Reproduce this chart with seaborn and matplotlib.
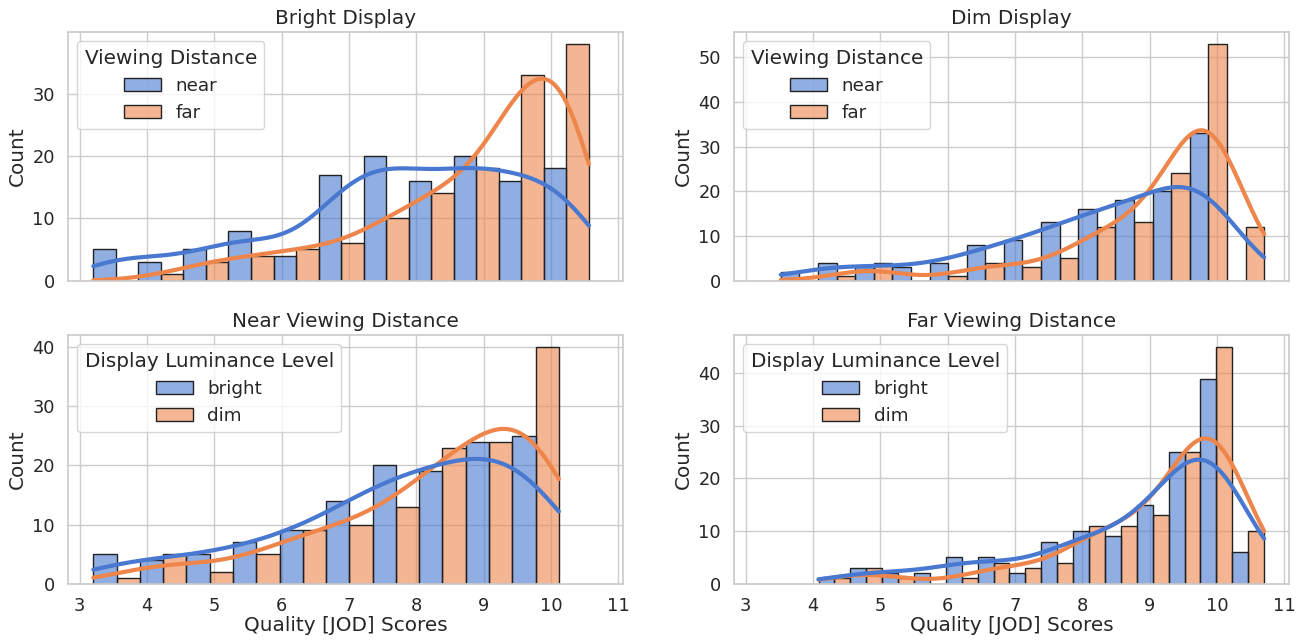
import numpy as np
import pandas as pd
import matplotlib
matplotlib.use("Agg")
import matplotlib.pyplot as plt
import seaborn as sns

# Counts per histogram bin, plus the span of the bins
bright_range = (3.204, 10.565)
bright_near = [5, 3, 5, 8, 4, 17, 20, 16, 20, 16, 18]
bright_far = [0, 1, 3, 4, 5, 6, 10, 14, 18, 33, 38]

dim_range = (3.521, 10.699)
dim_near = [2, 4, 3, 3, 4, 8, 9, 13, 16, 18, 20, 33, 0]
dim_far = [0, 1, 4, 0, 1, 4, 3, 5, 12, 13, 24, 53, 12]

near_range = (3.204, 10.118)
near_bright = [5, 4, 5, 7, 9, 14, 20, 19, 24, 25]
near_dim = [1, 5, 2, 5, 9, 10, 13, 23, 24, 40]

far_range = (4.081, 10.699)
far_bright = [1, 3, 2, 2, 5, 5, 2, 8, 10, 9, 15, 25, 39, 6]
far_dim = [1, 3, 1, 0, 1, 4, 3, 4, 11, 11, 13, 25, 45, 10]

score_col = "Quality [JOD] Scores"


def build_df(span, counts_a, counts_b, labels, hue_name):
    """Turn per-bin counts into one observation per count at the bin centre."""
    edges = np.linspace(span[0], span[1], len(counts_a) + 1)
    centers = (edges[:-1] + edges[1:]) / 2
    frames = []
    for lab, counts in zip(labels, [counts_a, counts_b]):
        vals = np.repeat(centers, counts)
        frames.append(pd.DataFrame({score_col: vals, hue_name: lab}))
    return pd.concat(frames, ignore_index=True), edges


sns.set_theme(style="whitegrid", palette="muted", font_scale=1.2)
plt.rcParams["xtick.labelsize"] = 12.8
plt.rcParams["ytick.labelsize"] = 12.8

fig, axes = plt.subplots(2, 2, figsize=(13.09, 6.4), sharex=True)
fig.subplots_adjust(left=0.052, right=0.985, top=0.95, bottom=0.088,
                    wspace=0.2, hspace=0.22)

panels = [
    (axes[0, 0], "Bright Display", bright_range, bright_near, bright_far,
     ["near", "far"], "Viewing Distance", 0.85),
    (axes[0, 1], "Dim Display", dim_range, dim_near, dim_far,
     ["near", "far"], "Viewing Distance", 1.0),
    (axes[1, 0], "Near Viewing Distance", near_range, near_bright, near_dim,
     ["bright", "dim"], "Display Luminance Level", 1.15),
    (axes[1, 1], "Far Viewing Distance", far_range, far_bright, far_dim,
     ["bright", "dim"], "Display Luminance Level", 1.0),
]

for ax, title, span, ca, cb, labels, hue_name, bw in panels:
    df, edges = build_df(span, ca, cb, labels, hue_name)
    sns.histplot(data=df, x=score_col, hue=hue_name, hue_order=labels,
                 bins=edges, multiple="dodge", kde=True, alpha=0.6,
                 edgecolor="#222222", linewidth=1,
                 kde_kws={"cut": 3, "clip": span, "bw_adjust": bw},
                 line_kws={"linewidth": 3}, ax=ax)
    sns.move_legend(ax, "upper left")
    ax.set_title(title)
    ax.set_ylabel("Count")

for ax in axes[0]:
    ax.set_xlabel("")
for ax in axes[1]:
    ax.set_xlabel(score_col, labelpad=1)

plt.savefig("out.png", dpi=100)
